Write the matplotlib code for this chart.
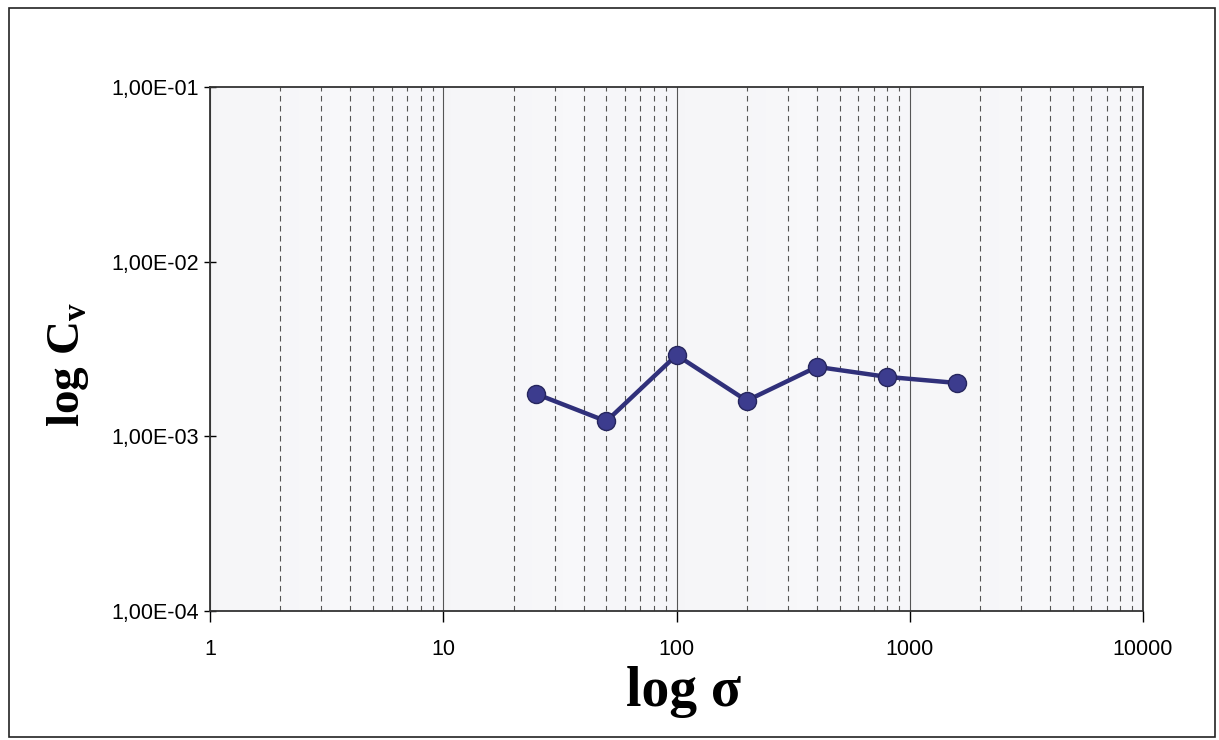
import matplotlib
matplotlib.use("Agg")
import matplotlib.pyplot as plt
from matplotlib.ticker import FixedLocator, LogLocator, NullFormatter, FuncFormatter
from matplotlib.patches import Rectangle
import numpy as np

sigma = [25, 50, 100, 200, 400, 800, 1600]
cv = [1.75e-3, 1.22e-3, 2.92e-3, 1.60e-3, 2.50e-3, 2.19e-3, 2.02e-3]
x_ticks = [1, 10, 100, 1000, 10000]
y_ticks = [1e-4, 1e-3, 1e-2, 1e-1]

fig = plt.figure(figsize=(12.19, 7.4), dpi=100)
ax = fig.add_axes([0.1723, 0.1743, 0.9377 - 0.1723, 0.8824 - 0.1743])

# outer frame of the scanned chart
fig.patches.append(Rectangle((0.007, 0.004), 0.99, 0.985, transform=fig.transFigure,
                             fill=False, edgecolor="#222222", linewidth=1.2))

ax.set_xscale("log")
ax.set_yscale("log")
ax.set_xlim(1, 10000)
ax.set_ylim(1e-4, 1e-1)
ax.set_facecolor("#f6f6f9")

# soft shading per decade
grad = np.tile(np.linspace(0.92, 1.0, 200), (10, 1))
for d in range(4):
    ax.imshow(grad, extent=(10**d, 10**(d + 0.6), 1e-4, 1e-1), aspect="auto",
              cmap="Greys_r", vmin=0, vmax=1, alpha=0.3, zorder=0)

ax.xaxis.set_major_locator(FixedLocator(x_ticks))
ax.xaxis.set_minor_locator(LogLocator(base=10, subs=np.arange(2, 10)))
ax.xaxis.set_minor_formatter(NullFormatter())
ax.xaxis.set_major_formatter(FuncFormatter(lambda v, p: f"{v:.0f}"))
ax.yaxis.set_major_locator(FixedLocator(y_ticks))
ax.yaxis.set_minor_locator(FixedLocator([]))
ax.yaxis.set_major_formatter(FuncFormatter(lambda v, p: f"{v:.2E}".replace(".", ",")))

ax.grid(which="major", axis="x", color="#555555", linewidth=0.8, linestyle="-")
ax.grid(which="minor", axis="x", color="#555555", linewidth=0.8, linestyle=(0, (5, 4)))
ax.set_axisbelow(True)

ax.tick_params(axis="x", which="major", direction="out", length=8, width=1, pad=12,
               labelsize=15.5)
ax.tick_params(axis="x", which="minor", length=0)
ax.tick_params(axis="y", which="major", direction="inout", length=8, width=1, pad=4,
               labelsize=15.5)
for s in ax.spines.values():
    s.set_color("#333333")
    s.set_linewidth(1.3)

ax.plot(sigma, cv, color="#30307a", linewidth=3.2, marker="o", markersize=13,
        markerfacecolor="#3c3c8e", markeredgecolor="#26265e", markeredgewidth=1,
        zorder=5)

ax.set_xlabel("log σ", family=["Liberation Serif", "DejaVu Serif"], fontsize=40,
              fontweight="bold", labelpad=8)
ax.xaxis.set_label_coords(0.507, -0.105)
ax.set_ylabel("log C$_\\mathregular{v}$", family=["Liberation Serif", "DejaVu Serif"],
              fontsize=34, fontweight="bold")
ax.yaxis.set_label_coords(-0.128, 0.47)
for lbl in ax.get_xticklabels() + ax.get_yticklabels():
    lbl.set_family(["Liberation Sans", "DejaVu Sans"])

fig.savefig("out.png", dpi=100)
